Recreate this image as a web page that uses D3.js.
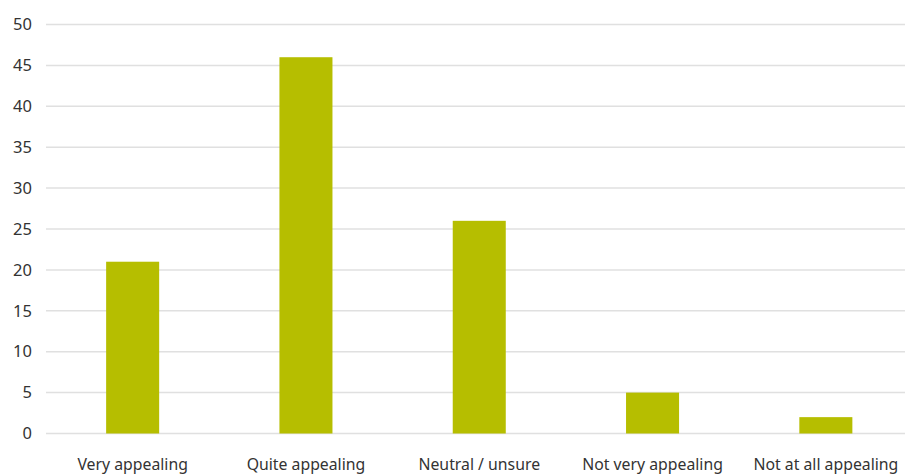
<!DOCTYPE html>
<html><head><meta charset="utf-8">
<script src="https://cdn.jsdelivr.net/npm/d3@7"></script>
<style>body{margin:0;background:#fff;overflow:hidden}svg{display:block}</style>
</head><body><svg id="c" width="905" height="475"></svg>
<script>
const categories = ["Very appealing","Quite appealing","Neutral / unsure","Not very appealing","Not at all appealing"];
const values = [21, 46, 26, 5, 2];
const yTicks = [0,5,10,15,20,25,30,35,40,45,50];

(function(){
const svg = d3.select("#c");
const mLeft = 46, bandW = 173.3, mTop = 24.5, mBottom = 433.5;
const x = d3.scaleBand().domain(categories).range([mLeft, mLeft + bandW*categories.length]).paddingInner(0.694).paddingOuter(0.347);
const y = d3.scaleLinear().domain([0,50]).range([mBottom, mTop]);

const font = "'Noto Sans', 'Open Sans', sans-serif";
const grid = svg.append("g");
grid.selectAll("line").data(yTicks).join("line")
  .attr("x1", mLeft).attr("x2", 905)
  .attr("y1", d => y(d)).attr("y2", d => y(d))
  .attr("stroke", "#e0e0e0").attr("stroke-width", 1.5);

const yAxis = svg.append("g").attr("transform", `translate(${mLeft},0)`)
  .call(d3.axisLeft(y).tickValues(yTicks).tickSize(0).tickPadding(14));
yAxis.select(".domain").remove();
yAxis.selectAll("text").attr("font-family", font).attr("font-size", 16.5).attr("fill", "#333");

svg.append("g").selectAll("rect").data(values).join("rect")
  .attr("x", (d,i) => x(categories[i]))
  .attr("width", x.bandwidth())
  .attr("y", d => y(d))
  .attr("height", d => y(0) - y(d))
  .attr("fill", "#b6be00");

const xAxis = svg.append("g").attr("transform", `translate(0,${mBottom})`)
  .call(d3.axisBottom(x).tickSize(0).tickPadding(25));
xAxis.select(".domain").remove();
xAxis.selectAll("text").attr("font-family", font).attr("font-size", 15.8).attr("fill", "#333");
})();
</script></body></html>
